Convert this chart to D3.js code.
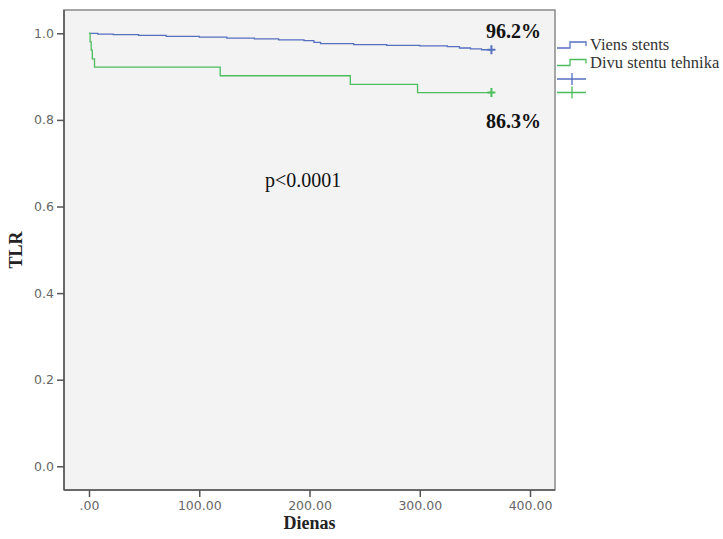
<!DOCTYPE html>
<html>
<head>
<meta charset="utf-8">
<script src="https://cdn.jsdelivr.net/npm/d3@7"></script>
<style>
  body { margin: 0; background: #fff; }
  svg { display: block; }
</style>
</head>
<body>
<div id="chart"></div>
<script>
// Kaplan-Meier steps: [day, survival]
var vienaDays = [0, 8, 22, 45, 70, 100, 125, 150, 172, 195, 204, 210, 240, 270, 300, 325, 336, 346, 356, 365];
var vienaSurv = [1.0, 0.998, 0.997, 0.995, 0.993, 0.991, 0.989, 0.987, 0.985, 0.983, 0.979, 0.976, 0.974, 0.972, 0.971, 0.969, 0.966, 0.964, 0.962, 0.962];
var divuDays = [0, 1, 2, 3, 5, 119, 237, 298, 365];
var divuSurv = [1.0, 0.98, 0.961, 0.941, 0.922, 0.902, 0.882, 0.863, 0.863];

var seriesNames = ["Viens stents", "Divu stentu tehnika"];
var seriesColors = ["#5470c0", "#4cbd5c"];
var endLabels = ["96.2%", "86.3%"];
var xTicks = [0, 100, 200, 300, 400];
var yTicks = [0, 0.2, 0.4, 0.6, 0.8, 1.0];

var W = 723, H = 539;
var frame = { left: 64, right: 555, top: 10, bottom: 490 };

var svg = d3.select("#chart").append("svg")
    .attr("width", W)
    .attr("height", H);

var x = d3.scaleLinear().domain([0, 400]).range([89, 530]);
var y = d3.scaleLinear().domain([0, 1]).range([466.3, 33.3]);

// plot background + frame
svg.append("rect")
    .attr("x", frame.left).attr("y", frame.top)
    .attr("width", frame.right - frame.left)
    .attr("height", frame.bottom - frame.top)
    .style("fill", "#f3f3f3")
    .style("stroke", "#8a8a8a")
    .style("stroke-width", 1.5);
// darker left and bottom axis lines
svg.append("line")
    .attr("x1", frame.left).attr("x2", frame.left)
    .attr("y1", frame.top).attr("y2", frame.bottom)
    .style("stroke", "#555").style("stroke-width", 1.5);
svg.append("line")
    .attr("x1", frame.left).attr("x2", frame.right)
    .attr("y1", frame.bottom).attr("y2", frame.bottom)
    .style("stroke", "#555").style("stroke-width", 1.5);

// axes
var yAxis = d3.axisLeft(y).tickValues(yTicks).tickSize(7).tickPadding(3)
    .tickFormat(d3.format(".1f"));
var gy = svg.append("g").attr("transform", "translate(" + frame.left + ",0)").call(yAxis);
gy.select(".domain").remove();

var xAxis = d3.axisBottom(x).tickValues(xTicks).tickSize(7).tickPadding(4)
    .tickFormat(function (d) { return d === 0 ? ".00" : d.toFixed(2); });
var gx = svg.append("g").attr("transform", "translate(0," + frame.bottom + ")").call(xAxis);
gx.select(".domain").remove();

svg.selectAll(".tick line").style("stroke", "#555").style("stroke-width", 1.5);
svg.selectAll(".tick text")
    .style("font-family", "'DejaVu Sans', sans-serif")
    .style("font-size", "12.5px")
    .style("fill", "#666");

// axis titles
svg.append("text")
    .attr("x", (frame.left + frame.right) / 2)
    .attr("y", 529)
    .attr("text-anchor", "middle")
    .style("font-family", "'Liberation Serif', serif")
    .style("font-weight", "bold")
    .style("font-size", "18px")
    .style("fill", "#222")
    .text("Dienas");
svg.append("text")
    .attr("transform", "translate(22," + (frame.top + frame.bottom) / 2 + ") rotate(-90)")
    .attr("text-anchor", "middle")
    .style("font-family", "'Liberation Serif', serif")
    .style("font-weight", "bold")
    .style("font-size", "18px")
    .style("fill", "#222")
    .text("TLR");

// survival curves
var line = d3.line()
    .x(function (d) { return x(d[0]); })
    .y(function (d) { return y(d[1]); })
    .curve(d3.curveStepAfter);

var curves = [d3.zip(vienaDays, vienaSurv), d3.zip(divuDays, divuSurv)];

curves.forEach(function (pts, i) {
    svg.append("path")
        .datum(pts)
        .attr("d", line)
        .style("fill", "none")
        .style("stroke", seriesColors[i])
        .style("stroke-width", 1.3);
    // censor mark at the end
    var last = pts[pts.length - 1];
    var cx = x(last[0]), cy = y(last[1]);
    svg.append("path")
        .attr("d", "M" + (cx - 4) + "," + cy + "H" + (cx + 4) + "M" + cx + "," + (cy - 4.5) + "V" + (cy + 4.5))
        .style("stroke", seriesColors[i])
        .style("stroke-width", 2);
});

// end labels
svg.append("text")
    .attr("x", x(365) + 22).attr("y", 38)
    .attr("text-anchor", "middle")
    .style("font-family", "'Liberation Serif', serif")
    .style("font-weight", "bold")
    .style("font-size", "20px")
    .style("fill", "#111")
    .text(endLabels[0]);
svg.append("text")
    .attr("x", x(365) + 22).attr("y", 128)
    .attr("text-anchor", "middle")
    .style("font-family", "'Liberation Serif', serif")
    .style("font-weight", "bold")
    .style("font-size", "20px")
    .style("fill", "#111")
    .text(endLabels[1]);

// p value
svg.append("text")
    .attr("x", 265).attr("y", 187)
    .style("font-family", "'Liberation Serif', serif")
    .style("font-size", "20px")
    .style("fill", "#111")
    .text("p<0.0001");

// legend
var lg = svg.append("g");
seriesNames.forEach(function (name, i) {
    var ly = 45 + i * 17.5;
    lg.append("path")
        .attr("d", "M557," + (ly + 3) + "H570V" + (ly - 3) + "H586V" + (ly + 1))
        .style("fill", "none")
        .style("stroke", seriesColors[i])
        .style("stroke-width", 1.3);
    lg.append("text")
        .attr("x", 590).attr("y", ly + 5)
        .style("font-family", "'Liberation Serif', serif")
        .style("font-size", "16.5px")
        .style("fill", "#333")
        .text(name);
});
seriesColors.forEach(function (c, i) {
    var ly = 79 + i * 13.5;
    lg.append("path")
        .attr("d", "M557," + ly + "H586M572," + (ly - 6) + "V" + (ly + 6))
        .style("stroke", c)
        .style("stroke-width", 1.3);
});
</script>
</body>
</html>
